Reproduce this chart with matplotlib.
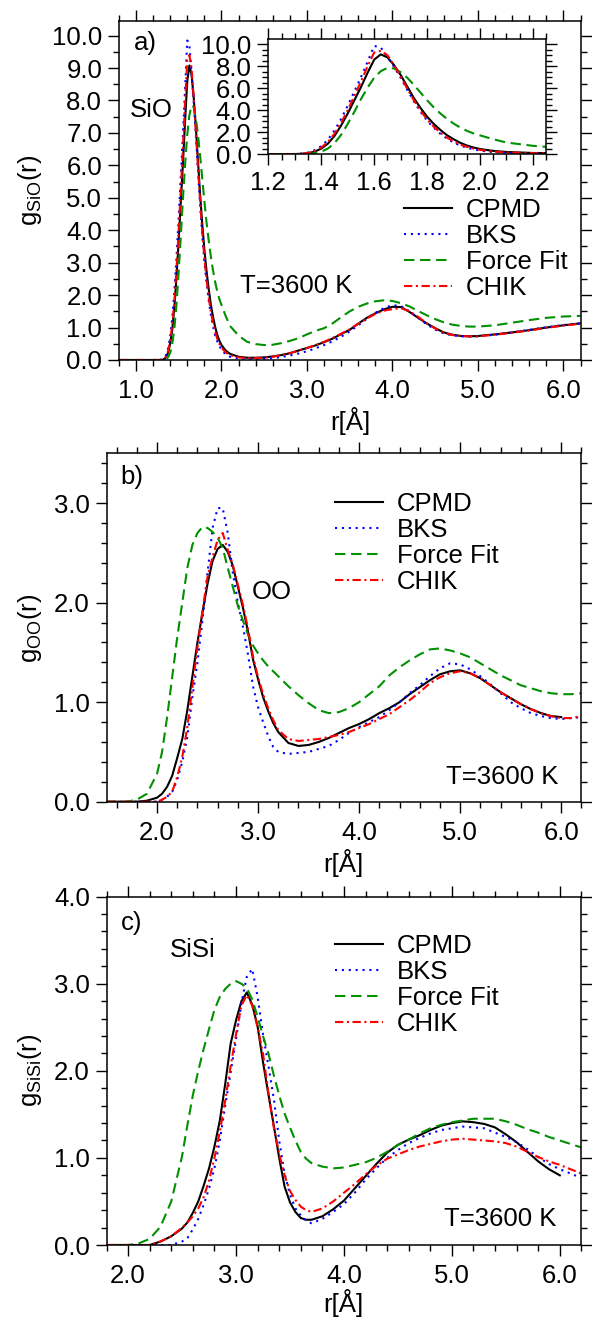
import numpy as np
import matplotlib
matplotlib.use("Agg")
import matplotlib.pyplot as plt
from matplotlib.ticker import MultipleLocator, FormatStrFormatter

plt.rcParams['font.family'] = ['Liberation Sans', 'DejaVu Sans']
plt.rcParams['mathtext.default'] = 'regular'

labels = ["CPMD", "BKS", "Force Fit", "CHIK"]
colors = ["black", "#0000ff", "#009000", "#ff0000"]
styles = ["-", (0, (1, 2.3)), (0, (5, 2.7)), (0, (4, 1.7, 1, 1.7))]

nan = np.nan

# ---------------- Si-O ----------------
r_sio = [0.80, 1.00, 1.20, 1.30, 1.325, 1.35, 1.375, 1.40, 1.425, 1.45, 1.475,
         1.50, 1.525, 1.55, 1.575, 1.60, 1.625, 1.65, 1.675, 1.70, 1.725, 1.75,
         1.775, 1.80, 1.825, 1.85, 1.875, 1.90, 1.925, 1.95, 1.975, 2.00, 2.05,
         2.10, 2.20, 2.30, 2.40, 2.50, 2.60, 2.70, 2.80, 2.90, 3.00, 3.10, 3.20,
         3.30, 3.40, 3.50, 3.60, 3.70, 3.80, 3.90, 4.00, 4.10, 4.20, 4.30, 4.40,
         4.50, 4.60, 4.70, 4.80, 4.90, 5.00, 5.20, 5.40, 5.60, 5.80, 6.00, 6.20]
sio_cpmd = [0, 0, 0, 0.0, 0.02, 0.08, 0.22, 0.5, 0.95, 1.65, 2.6,
            3.7, 4.9, 6.1, 7.4, 8.6, 9.08, 8.8, 8.1, 7.2, 6.15, 5.1,
            4.2, 3.4, 2.75, 2.2, 1.72, 1.35, 1.03, 0.78, 0.6, 0.46, 0.29,
            0.19, 0.1, 0.07, 0.07, 0.08, 0.11, 0.15, 0.21, 0.29, 0.37, 0.45, 0.55,
            0.66, 0.8, 0.93, 1.12, 1.3, 1.44, 1.56, 1.64, 1.63, 1.48, 1.3, 1.13,
            0.98, 0.85, 0.78, 0.74, 0.73, 0.74, 0.79, 0.85, 0.92, 1.0, 1.07, 1.13]
sio_bks = [0, 0, 0, 0.01, 0.05, 0.14, 0.35, 0.72, 1.3, 2.15, 3.2,
           4.4, 5.7, 7.0, 8.4, 9.85, 9.7, 8.85, 7.95, 6.95, 5.85, 4.8,
           3.85, 3.05, 2.4, 1.85, 1.4, 1.05, 0.78, 0.58, 0.43, 0.32, 0.17,
           0.1, 0.05, 0.03, 0.03, 0.04, 0.06, 0.09, 0.14, 0.2, 0.27, 0.36, 0.46,
           0.58, 0.72, 0.88, 1.07, 1.27, 1.45, 1.6, 1.69, 1.66, 1.5, 1.3, 1.1,
           0.94, 0.82, 0.76, 0.73, 0.72, 0.73, 0.78, 0.85, 0.93, 1.01, 1.08, 1.13]
sio_ff = [0, 0, 0, 0, 0.0, 0.02, 0.08, 0.22, 0.5, 1.0, 1.75,
          2.75, 3.85, 5.0, 6.05, 6.95, 7.55, 7.85, 7.8, 7.45, 6.95, 6.3,
          5.6, 4.9, 4.25, 3.7, 3.2, 2.78, 2.42, 2.12, 1.88, 1.7, 1.35,
          1.05, 0.75, 0.56, 0.49, 0.46, 0.47, 0.52, 0.59, 0.67, 0.79, 0.9, 0.98,
          1.13, 1.32, 1.5, 1.64, 1.74, 1.81, 1.84, 1.82, 1.75, 1.65, 1.51, 1.38,
          1.26, 1.16, 1.09, 1.05, 1.03, 1.03, 1.07, 1.15, 1.23, 1.3, 1.34, 1.36]
sio_chik = [0, 0, 0, 0.0, 0.03, 0.1, 0.27, 0.6, 1.1, 1.85, 2.85,
            4.0, 5.3, 6.6, 8.0, 9.25, 9.4, 9.0, 8.1, 7.05, 5.95, 4.9,
            3.95, 3.15, 2.5, 1.95, 1.5, 1.15, 0.87, 0.66, 0.5, 0.38, 0.23,
            0.15, 0.08, 0.06, 0.06, 0.07, 0.1, 0.15, 0.21, 0.29, 0.37, 0.46, 0.56,
            0.68, 0.81, 0.95, 1.12, 1.28, 1.42, 1.52, 1.57, 1.6, 1.5, 1.33, 1.13,
            0.97, 0.84, 0.77, 0.74, 0.73, 0.73, 0.78, 0.84, 0.91, 0.99, 1.06, 1.12]

# ---------------- O-O ----------------
r_oo = [1.5, 1.6, 1.7, 1.8, 1.9, 2.0, 2.05, 2.1, 2.15, 2.2, 2.25, 2.3, 2.35,
        2.4, 2.45, 2.5, 2.55, 2.6, 2.65, 2.7, 2.75, 2.8, 2.85, 2.9, 2.95, 3.0,
        3.05, 3.1, 3.15, 3.2, 3.3, 3.4, 3.5, 3.6, 3.7, 3.8, 3.9, 4.0, 4.1, 4.2,
        4.3, 4.4, 4.5, 4.6, 4.7, 4.8, 4.9, 5.0, 5.1, 5.2, 5.3, 5.4, 5.5, 5.6,
        5.7, 5.8, 5.9, 6.0, 6.1, 6.2]
oo_cpmd = [0, 0, 0, 0, 0.01, 0.04, 0.08, 0.15, 0.26, 0.44, 0.63, 0.92, 1.26,
           1.6, 1.9, 2.19, 2.42, 2.54, 2.58, 2.51, 2.37, 2.16, 1.95, 1.71, 1.43, 1.23,
           1.05, 0.91, 0.79, 0.7, 0.59, 0.56, 0.57, 0.6, 0.64, 0.69, 0.74, 0.78, 0.83, 0.89,
           0.94, 1.0, 1.08, 1.15, 1.22, 1.28, 1.31, 1.32, 1.29, 1.24, 1.17, 1.1, 1.04, 0.98,
           0.93, 0.89, 0.86, 0.85, nan, nan]
oo_bks = [0, 0, 0, 0, 0, 0.0, 0.02, 0.05, 0.1, 0.22, 0.4, 0.65, 1.05,
          1.4, 1.82, 2.3, 2.75, 2.95, 2.95, 2.7, 2.3, 2.0, 1.76, 1.48, 1.16, 0.95,
          0.8, 0.66, 0.55, 0.5, 0.48, 0.49, 0.5, 0.53, 0.56, 0.62, 0.69, 0.75, 0.8, 0.85,
          0.92, 1.0, 1.09, 1.17, 1.26, 1.34, 1.39, 1.38, 1.33, 1.26, 1.18, 1.09, 1.0, 0.94,
          0.89, 0.86, 0.84, 0.83, 0.84, 0.85]
oo_ff = [0, 0, 0, 0.02, 0.08, 0.28, 0.5, 0.85, 1.25, 1.65, 2.0, 2.35, 2.58,
         2.7, 2.76, 2.75, 2.71, 2.65, 2.55, 2.35, 2.16, 1.97, 1.82, 1.68, 1.57, 1.49,
         1.42, 1.36, 1.31, 1.26, 1.16, 1.07, 0.99, 0.92, 0.89, 0.9, 0.94, 1.0, 1.08, 1.16,
         1.27, 1.35, 1.42, 1.48, 1.53, 1.54, 1.52, 1.49, 1.45, 1.39, 1.33, 1.27, 1.22, 1.17,
         1.14, 1.11, 1.09, 1.08, 1.08, 1.09]
oo_chik = [0, 0, 0, 0, 0, 0.0, 0.02, 0.05, 0.1, 0.25, 0.45, 0.75, 1.15,
           1.55, 1.92, 2.26, 2.46, 2.63, 2.7, 2.53, 2.38, 2.18, 1.98, 1.74, 1.46, 1.25,
           1.08, 0.94, 0.82, 0.72, 0.63, 0.61, 0.62, 0.63, 0.65, 0.67, 0.7, 0.74, 0.78, 0.83,
           0.88, 0.95, 1.02, 1.1, 1.19, 1.25, 1.29, 1.31, 1.29, 1.24, 1.17, 1.1, 1.04, 0.98,
           0.93, 0.89, 0.86, 0.84, 0.84, 0.86]

# ---------------- Si-Si ----------------
r_sisi = [1.8, 1.9, 2.0, 2.1, 2.2, 2.3, 2.4, 2.5, 2.55, 2.6, 2.65, 2.7, 2.75,
          2.8, 2.85, 2.9, 2.95, 3.0, 3.05, 3.1, 3.15, 3.2, 3.25, 3.3, 3.35, 3.4,
          3.45, 3.5, 3.55, 3.6, 3.65, 3.7, 3.8, 3.9, 4.0, 4.1, 4.2, 4.3, 4.4, 4.5,
          4.6, 4.7, 4.8, 4.9, 5.0, 5.1, 5.2, 5.3, 5.4, 5.5, 5.6, 5.7, 5.8, 5.9,
          6.0, 6.1, 6.2]
sisi_cpmd = [0, 0, 0, 0, 0.0, 0.04, 0.1, 0.19, 0.26, 0.37, 0.5, 0.68, 0.88,
             1.13, 1.43, 1.85, 2.31, 2.58, 2.8, 2.9, 2.76, 2.51, 2.1, 1.73, 1.37, 1.0,
             0.67, 0.49, 0.38, 0.31, 0.29, 0.29, 0.33, 0.41, 0.51, 0.65, 0.79, 0.93, 1.06, 1.15,
             1.21, 1.26, 1.32, 1.37, 1.4, 1.42, 1.41, 1.39, 1.35, 1.27, 1.18, 1.07, 0.96, 0.87,
             0.8, nan, nan]
sisi_bks = [0, 0, 0, 0, 0, 0, 0.0, 0.04, 0.08, 0.18, 0.3, 0.46, 0.65,
            0.88, 1.2, 1.6, 1.98, 2.36, 2.78, 3.08, 3.17, 2.85, 2.42, 2.06, 1.68, 1.2,
            0.82, 0.58, 0.42, 0.34, 0.28, 0.25, 0.3, 0.38, 0.47, 0.6, 0.75, 0.88, 1.0, 1.09,
            1.17, 1.23, 1.28, 1.32, 1.34, 1.36, 1.35, 1.34, 1.29, 1.24, 1.18, 1.1, 1.01, 0.93,
            0.87, 0.82, 0.77]
sisi_ff = [0, 0, 0.0, 0.02, 0.07, 0.21, 0.5, 1.02, 1.38, 1.72, 2.0, 2.25, 2.48,
           2.7, 2.85, 2.94, 3.0, 3.03, 3.0, 2.95, 2.82, 2.62, 2.4, 2.2, 1.95, 1.72,
           1.51, 1.35, 1.2, 1.07, 0.99, 0.94, 0.9, 0.88, 0.89, 0.92, 0.95, 1.0, 1.07, 1.15,
           1.21, 1.28, 1.34, 1.38, 1.41, 1.43, 1.45, 1.45, 1.45, 1.42, 1.38, 1.33, 1.29, 1.24,
           1.2, 1.16, 1.12]
sisi_chik = [0, 0, 0, 0, 0.0, 0.04, 0.1, 0.2, 0.26, 0.33, 0.42, 0.55, 0.74,
             1.0, 1.3, 1.66, 2.05, 2.42, 2.75, 2.87, 2.75, 2.5, 2.2, 1.75, 1.35, 1.05,
             0.8, 0.62, 0.52, 0.44, 0.4, 0.38, 0.42, 0.5, 0.6, 0.7, 0.81, 0.91, 0.99, 1.04,
             1.09, 1.13, 1.16, 1.19, 1.21, 1.22, 1.21, 1.2, 1.19, 1.17, 1.13, 1.07, 1.01, 0.96,
             0.92, 0.87, 0.82]

FS = 18.5


def style_axes(ax, xmaj, xmin, ymaj, ymin, xpad=6):
    ax.xaxis.set_major_locator(MultipleLocator(xmaj))
    ax.xaxis.set_minor_locator(MultipleLocator(xmin))
    ax.yaxis.set_major_locator(MultipleLocator(ymaj))
    ax.yaxis.set_minor_locator(MultipleLocator(ymin))
    ax.xaxis.set_major_formatter(FormatStrFormatter('%.1f'))
    ax.yaxis.set_major_formatter(FormatStrFormatter('%.1f'))
    ax.tick_params(which='both', direction='out', top=True, right=True,
                   labelsize=FS, width=1.0)
    ax.tick_params(which='major', length=8)
    ax.tick_params(axis='x', which='major', pad=xpad)
    ax.tick_params(axis='y', which='major', pad=4)
    ax.tick_params(which='minor', length=4)
    for s in ax.spines.values():
        s.set_linewidth(1.1)


def draw(ax, r, series):
    for y, c, ls, lab in zip(series, colors, styles, labels):
        ax.plot(r, y, color=c, linestyle=ls, lw=1.5, label=lab)


def add_legend(ax, x, y):
    ax.legend(loc='upper left', bbox_to_anchor=(x, y), frameon=False,
              fontsize=FS, handlelength=1.87, handletextpad=0.55,
              labelspacing=0.08, borderpad=0, borderaxespad=0)


def put(ax, x, y, s, **kw):
    ax.text(x, y, s, transform=ax.transAxes, ha='center', va='center',
            fontsize=FS, **kw)


fig = plt.figure(figsize=(5.92, 13.19), dpi=100)

# panel a
axa = fig.add_axes([0.2008, 0.72707, 0.7799, 0.2570])
draw(axa, r_sio, [sio_cpmd, sio_bks, sio_ff, sio_chik])
axa.set_xlim(0.8, 6.2)
axa.set_ylim(0, 10.45)
style_axes(axa, 1.0, 0.2, 1.0, 0.5)
add_legend(axa, 0.6175, 0.478)
put(axa, 0.0565, 0.935, "a)")
put(axa, 0.0695, 0.7375, "SiO")
put(axa, 0.384, 0.2183, "T=3600 K")
put(axa, 0.5005, -0.180, "r[Å]")
put(axa, -0.1925, 0.5015, r"g$_{SiO}$(r)", rotation=90)

# inset
axi = fig.add_axes([0.4533, 0.8832, 0.4693, 0.0870])
draw(axi, r_sio, [sio_cpmd, sio_bks, sio_ff, sio_chik])
axi.set_xlim(1.2, 2.25)
axi.set_ylim(0, 10.45)
style_axes(axi, 0.2, 0.05, 2.0, 0.5, xpad=4)

# panel b
axb = fig.add_axes([0.1799, 0.3922, 0.8022, 0.2641])
draw(axb, r_oo, [oo_cpmd, oo_bks, oo_ff, oo_chik])
axb.set_xlim(1.5, 6.2)
axb.set_ylim(0, 3.5)
style_axes(axb, 1.0, 0.2, 1.0, 0.2)
add_legend(axb, 0.4811, 0.890)
put(axb, 0.0537, 0.932, "b)")
put(axb, 0.3485, 0.602, "OO")
put(axb, 0.8327, 0.0709, "T=3600 K")
put(axb, 0.498, -0.176, "r[Å]")
put(axb, -0.161, 0.4986, r"g$_{OO}$(r)", rotation=90)

# panel c
axc = fig.add_axes([0.1799, 0.0561, 0.8022, 0.2641])
draw(axc, r_sisi, [sisi_cpmd, sisi_bks, sisi_ff, sisi_chik])
axc.set_xlim(1.8, 6.2)
axc.set_ylim(0, 4.0)
style_axes(axc, 1.0, 0.2, 1.0, 0.2)
add_legend(axc, 0.4811, 0.893)
put(axc, 0.0537, 0.9245, "c)")
put(axc, 0.181, 0.847, "SiSi")
put(axc, 0.8285, 0.0747, "T=3600 K")
put(axc, 0.498, -0.1665, "r[Å]")
put(axc, -0.161, 0.5024, r"g$_{SiSi}$(r)", rotation=90)

fig.savefig("out.png", dpi=100)
